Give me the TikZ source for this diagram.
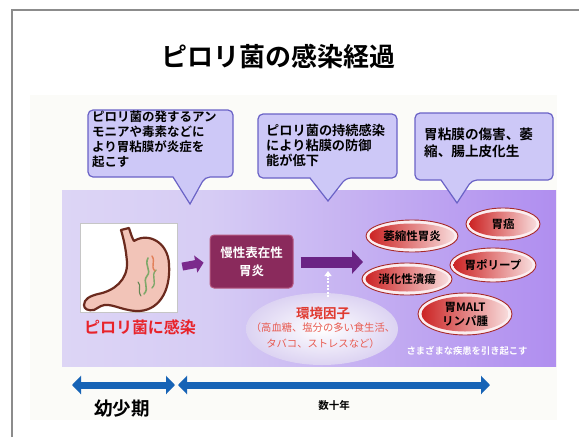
\documentclass[tikz,border=0pt]{standalone}
\usepackage{fontspec}
\newfontfamily\jp{Noto Sans CJK JP}[BoldFont={Noto Sans CJK JP Bold}]
\usetikzlibrary{arrows.meta,shapes.geometric}

\definecolor{framegray}{HTML}{8C8C8C}
\definecolor{paper}{HTML}{FBFBF8}
\definecolor{bandA}{HTML}{E8E4F8}
\definecolor{bandB}{HTML}{D6CCF4}
\definecolor{bandC}{HTML}{B596F0}
\definecolor{bandD}{HTML}{9668EC}
\definecolor{calloutfill}{HTML}{CDC8F7}
\definecolor{calloutline}{HTML}{6A62C6}
\definecolor{gastric}{HTML}{8A2A5C}
\definecolor{gastricline}{HTML}{B5587F}
\definecolor{smallarrow}{HTML}{7B2A8C}
\definecolor{bigarrow}{HTML}{6A2384}
\definecolor{stomachfill}{HTML}{F2C4B8}
\definecolor{stomachline}{HTML}{6B2A1E}
\definecolor{infectred}{HTML}{E8232A}
\definecolor{envred}{HTML}{E03A30}
\definecolor{envsub}{HTML}{E85A50}
\definecolor{envedge}{HTML}{DCD3F2}
\definecolor{illred}{HTML}{CC2424}
\definecolor{illpale}{HTML}{F8DCDC}
\definecolor{illrim}{HTML}{FBEEF0}
\definecolor{illline}{HTML}{A82A2A}
\definecolor{timeblue}{HTML}{1663B6}
\definecolor{germgreen}{HTML}{7FA86A}
\definecolor{germorange}{HTML}{E2805A}

\pgfdeclarehorizontalshading{bandshade}{100bp}{color(0bp)=(bandA); color(40bp)=(bandB); color(70bp)=(bandC); color(100bp)=(bandD)}

% one disease bubble: name, cx, cy, rx, ry, text
\newcommand\illness[6]{%
  \filldraw[fill=illrim, draw=illline, line width=0.9pt] (#2,#3) ellipse [x radius=#4, y radius=#5];
  \shade[left color=illred, right color=illpale] (#2,#3) ellipse [x radius=#4-3.5, y radius=#5-3.5];
  \node[illtext] (#1) at (#2,#3) {#6};}

\begin{document}
\begin{tikzpicture}[x=1pt,y=-1pt,
  callout/.style={fill=calloutfill, draw=calloutline, line width=1.2pt, rounded corners=5pt},
  callouttext/.style={anchor=north west, align=left, inner sep=0pt,
    font=\jp\bfseries\fontsize{12.5}{15}\selectfont},
  illtext/.style={align=center, inner sep=0pt, text=black,
    font=\jp\bfseries\fontsize{11.5}{14}\selectfont},
  timearrow/.style={draw=timeblue, line width=7pt,
    {Triangle[length=9pt,width=18pt]}-{Triangle[length=9pt,width=18pt]}},
]
\useasboundingbox (0,0) rectangle (579,437);

% page frame
\fill[white] (0,0) rectangle (579,437);
\draw[framegray, line width=1.3pt] (12,437) -- (12,10) -- (579,10);

% title
\node[font=\jp\bfseries\fontsize{26}{30}\selectfont] (title) at (278,56) {ピロリ菌の感染経過};

% slide picture area and coloured band
\fill[paper] (30,95) rectangle (557,420);
\shade[shading=bandshade] (62,190) rectangle (556,366);

% callouts
\draw[callout] (88,110) -- (233,110) -- (233,177) -- (205,177) [sharp corners] -- (190,204) -- (173,177) [rounded corners=5pt] -- (88,177) -- cycle;
\node[callouttext] (note1) at (92,111) {ピロリ菌の発するアン\\モニアや毒素などに\\より胃粘膜が炎症を\\起こす};

\draw[callout] (258,114) -- (397,114) -- (397,178) -- (346,178) [sharp corners] -- (328,201) -- (310,178) [rounded corners=5pt] -- (258,178) -- cycle;
\node[callouttext, font=\jp\bfseries\fontsize{13.2}{15}\selectfont] (note2) at (266,124) {ピロリ菌の持続感染\\により粘膜の防御\\能が低下};

\draw[callout] (415,113) -- (553,113) -- (553,180) -- (472,180) [sharp corners] -- (457,203) -- (441,180) [rounded corners=5pt] -- (415,180) -- cycle;
\node[callouttext, font=\jp\bfseries\fontsize{13.6}{16.5}\selectfont] (note3) at (424,128) {胃粘膜の傷害、萎\\縮、腸上皮化生};

% stomach picture
\node[draw=gray!45, fill=white, line width=0.8pt, minimum width=97pt, minimum height=89pt, inner sep=0pt] (stomach) at (128.5,267.5) {};
\filldraw[fill=stomachfill, draw=stomachline, line width=2.2pt, line join=round]
  (129,228) .. controls (131,234) and (132,238) .. (134,241)
  .. controls (148,232) and (168,242) .. (169,264)
  .. controls (171,292) and (158,312) .. (136,311)
  .. controls (120,310) and (110,302) .. (101,306)
  -- (94,310) .. controls (88,311) and (84,309) .. (84,305)
  .. controls (84,299) and (90,296) .. (98,294)
  .. controls (114,291) and (128,280) .. (127,262)
  .. controls (126,250) and (124,240) .. (121,230) -- cycle;
\draw[germgreen, line width=1.6pt, line cap=round]
  (148,258) .. controls (144,266) and (152,270) .. (147,276)
  .. controls (142,282) and (150,288) .. (144,294);
\draw[germgreen, line width=1.4pt, line cap=round]
  (156,270) .. controls (150,276) and (158,282) .. (152,288);
\draw[germorange, line width=1.4pt, line cap=round]
  (152,256) .. controls (156,262) and (150,266) .. (155,271);
\draw[germgreen!80!black, line width=1.1pt, line cap=round]
  (138,282) .. controls (142,286) and (137,290) .. (141,296);
\node[font=\jp\bfseries\fontsize{16}{18}\selectfont, text=infectred] (infect) at (140,327) {ピロリ菌に感染};

% chronic gastritis
\node[fill=gastric, draw=gastricline, line width=1pt, rounded corners=4pt,
  minimum width=83pt, minimum height=53pt, align=center, text=white,
  font=\jp\bfseries\fontsize{12.5}{18}\selectfont] (gastritis) at (251.5,261.5) {慢性表在性\\胃炎};
\draw[smallarrow, line width=8pt, shorten <=5pt, shorten >=6pt,
  -{Triangle[length=8pt,width=17pt]}] (stomach.east) -- (gastritis.west);

% progression arrow
\coordinate (bigtip) at (363,262);
\draw[bigarrow, line width=11pt, shorten <=7pt,
  -{Triangle[length=11pt,width=23pt]}] (gastritis.east |- bigtip) -- (bigtip);

% environmental factors
\node[ellipse, minimum width=152pt, minimum height=72pt, inner sep=0pt,
  inner color=white, outer color=envedge] (env) at (322,329) {};
\node[font=\jp\bfseries\fontsize{13.5}{15}\selectfont, text=envred] (envtitle) at (323,313) {環境因子};
\node[font=\jp\fontsize{10.3}{16}\selectfont, text=envsub, align=center] (envnote) at (323,336) {（高血糖、塩分の多い食生活、\\タバコ、ストレスなど）};
\coordinate (envtip) at (328,271);
\draw[white, line width=1.4pt, dash pattern=on 2pt off 1.5pt,
  -{Triangle[length=5pt,width=7pt]}] (328,297) -- (envtip);

% diseases
\illness{atrophic}{412}{236}{46}{16}{萎縮性胃炎}
\illness{cancer}{503}{224}{37}{16}{胃癌}
\illness{polyp}{493}{265}{43}{17}{胃ポリープ}
\illness{ulcer}{407}{279}{45}{16}{消化性潰瘍}
\illness{malt}{465}{314}{47}{21}{胃MALT\\リンパ腫}
\node[font=\jp\bfseries\fontsize{9.3}{11}\selectfont, text=white] (various) at (467,351) {さまざまな疾患を引き起こす};

% time line
\coordinate (t0) at (72,385);
\coordinate (t1) at (175,385);
\coordinate (t2) at (178,385);
\coordinate (t3) at (490,385);
\draw[timearrow] (t0) -- (t1);
\draw[timearrow] (t2) -- (t3);
\node[font=\jp\bfseries\fontsize{18.5}{20}\selectfont] (childhood) at (122,409) {幼少期};
\node[font=\jp\bfseries\fontsize{10.5}{12}\selectfont] (decades) at (334,405) {数十年};
\end{tikzpicture}
\end{document}
